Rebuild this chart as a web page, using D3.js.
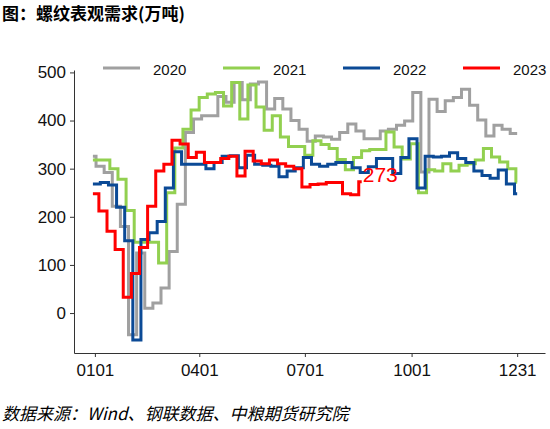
<!DOCTYPE html>
<html>
<head>
<meta charset="utf-8">
<script src="https://cdn.jsdelivr.net/npm/d3@7"></script>
<style>
  body { margin: 0; background: #fff; }
  svg { display: block; font-family: "Liberation Sans", Arial, sans-serif; }
</style>
</head>
<body>
<svg id="chart" width="550" height="429"></svg>
<script>
// weekly apparent demand of rebar (万吨), one array per year
var years = ["2020", "2021", "2022", "2023"];
var colors = ["#a0a0a0", "#92d050", "#0b4a96", "#ff0000"];

var demand2020 = [326, 305, 292, 222, 180, -45, 125, 10, 21, 52, 128, 226, 375, 403, 410, 410, 450, 438,
  479, 443, 476, 480, 424, 446, 424, 400, 382, 357, 368, 366, 361, 375, 393, 378, 362, 362, 378, 382,
  390, 399, 458, 293, 444, 419, 441, 448, 465, 432, 401, 368, 390, 382, 373];
var demand2021 = [318, 318, 300, 278, 213, 147, 147, 147, 104, 250, 343, 382, 422, 448, 455, 458, 430, 479,
  403, 474, 428, 380, 410, 366, 346, 346, 328, 358, 350, 342, 319, 298, 323, 337, 340, 340, 376, 345,
  320, 352, 250, 298, 295, 310, 295, 307, 310, 318, 342, 324, 314, 300, 272];
var demand2022 = [268, 271, 266, 220, 150, -56, 153, 167, 190, 260, 335, 309, 309, 309, 300, 313, 326, 327,
  302, 328, 309, 307, 305, 283, 295, 302, 323, 309, 305, 309, 313, 313, 302, 292, 304, 321, 321, 290,
  323, 362, 260, 326, 324, 326, 333, 321, 313, 295, 286, 280, 297, 268, 248];
var demand2023 = [248, 212, 170, 132, 33, 82, 136, 222, 295, 309, 359, 351, 323, 334, 313, 313, 321, 326,
  285, 336, 316, 310, 318, 310, 305, 300, 262, 267, 268, 271, 271, 248, 246, 273];

// day of year (0 = Jan 1) where each year's weekly values change
var startDay = -1.7;
var firstStep = [1.0, 5.9, 4.7, 3.45];
var endDay = [364, 364, 364, 230];

var tickDays = [0, 90, 181, 273, 364];
var tickLabels = ["0101", "0401", "0701", "1001", "1231"];
var yTicks = [0, 100, 200, 300, 400, 500];

var allDemand = [demand2020, demand2021, demand2022, demand2023];

var svg = d3.select("#chart");

svg.append("rect").attr("width", 550).attr("height", 429).attr("fill", "#fff");

var x = d3.scaleLinear().domain([-18, 388]).range([74, 545]);
var y = d3.scaleLinear().domain([-83, 505]).range([353, 70]);

// title
svg.append("text")
    .attr("x", 2).attr("y", 20)
    .style("font-family", "'Noto Sans CJK SC', sans-serif")
    .style("font-weight", "bold")
    .style("font-size", "17px")
    .text("图：螺纹表观需求(万吨)");

// axes
var yAxis = svg.append("g")
    .attr("transform", "translate(74,0)")
    .call(d3.axisLeft(y).tickValues(yTicks).tickSize(4).tickPadding(4).tickSizeOuter(0));

var xAxis = svg.append("g")
    .attr("transform", "translate(0,353)")
    .call(d3.axisBottom(x).tickValues(tickDays)
        .tickFormat(function(d, i) { return tickLabels[i]; })
        .tickSize(4).tickPadding(7).tickSizeOuter(0));

[yAxis, xAxis].forEach(function(ax) {
    ax.selectAll("path, line").attr("stroke", "#333");
    ax.selectAll("text").style("font-size", "17px").attr("fill", "#111")
        .style("font-family", "'Liberation Sans', Arial, sans-serif");
});

// series lines
var line = d3.line()
    .curve(d3.curveStepAfter)
    .x(function(d) { return x(d.day); })
    .y(function(d) { return y(d.value); });

allDemand.forEach(function(values, k) {
    var pts = values.map(function(v, i) {
        return { day: i === 0 ? startDay : firstStep[k] + 7 * (i - 1), value: v };
    });
    pts.push({ day: endDay[k], value: values[values.length - 1] });

    svg.append("path")
        .datum(pts)
        .attr("fill", "none")
        .attr("stroke", colors[k])
        .attr("stroke-width", 3)
        .attr("d", line);
});

// last 2023 value label
var last2023 = demand2023[demand2023.length - 1];
svg.append("text")
    .attr("x", x(endDay[3]) + 1)
    .attr("y", y(last2023))
    .attr("fill", "#ff0000")
    .style("font-size", "21px")
    .text(last2023);

// legend
var legend = svg.append("g");
years.forEach(function(yr, k) {
    var lx = 103 + k * 120;
    legend.append("line")
        .attr("x1", lx).attr("x2", lx + 37)
        .attr("y1", 68).attr("y2", 68)
        .attr("stroke", colors[k]).attr("stroke-width", 3);
    legend.append("text")
        .attr("x", lx + 50).attr("y", 75)
        .style("font-size", "15px")
        .attr("fill", "#111")
        .text(yr);
});

// source note
svg.append("text")
    .attr("x", 2).attr("y", 420)
    .style("font-family", "'Noto Sans CJK SC', sans-serif")
    .style("font-style", "italic")
    .style("font-size", "17px")
    .text("数据来源：Wind、钢联数据、中粮期货研究院");
</script>
</body>
</html>
